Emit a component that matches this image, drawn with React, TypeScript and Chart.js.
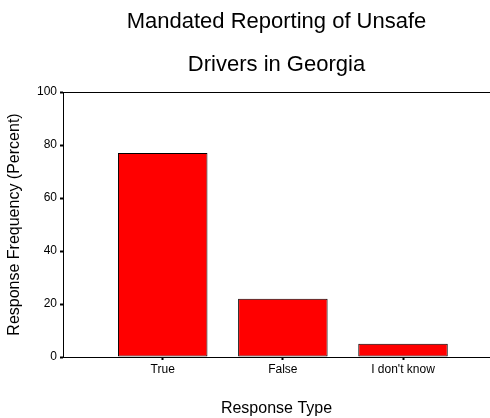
import React, { useEffect, useRef } from "react";
import { Chart, registerables } from "chart.js";

Chart.register(...registerables);

const titleLines = ["Mandated Reporting of Unsafe", "Drivers in Georgia"];
const categories = ["True", "False", "I don't know"];
const values = [77, 22, 5];
const yTicks = [0, 20, 40, 60, 80, 100];
const xAxisTitle = "Response Type";
const yAxisTitle = "Response Frequency (Percent)";

const FONT = "'Liberation Sans', Arial, Helvetica, sans-serif";

const topBorder = {
  id: "topBorder",
  afterDraw(chart: any) {
    const { ctx, chartArea } = chart;
    ctx.save();
    ctx.strokeStyle = "#000";
    ctx.lineWidth = 1;
    ctx.beginPath();
    const y = Math.round(chartArea.top) + 0.5;
    ctx.moveTo(chartArea.left, y);
    ctx.lineTo(chartArea.right, y);
    ctx.stroke();
    ctx.restore();
  },
};

export default function App() {
  const ref = useRef<HTMLCanvasElement | null>(null);

  useEffect(() => {
    document.body.style.margin = "0";
    const canvas = ref.current;
    if (!canvas) return;
    const chart = new Chart(canvas, {
      type: "bar",
      data: {
        datasets: [
          {
            data: values.map((v, i) => ({ x: i, y: v })),
            backgroundColor: "#ff0000",
            borderColor: "#000000",
            borderWidth: 1,
            borderSkipped: false,
            barPercentage: 0.745,
            categoryPercentage: 1,
          },
        ],
      },
      options: {
        animation: false,
        responsive: false,
        maintainAspectRatio: false,
        layout: { padding: 0 },
        plugins: {
          legend: { display: false },
          tooltip: { enabled: false },
          title: {
            display: true,
            text: titleLines,
            fullSize: false,
            color: "#000",
            font: { family: FONT, size: 22, weight: "normal", lineHeight: 43 / 22 },
            padding: { top: 0, bottom: 6 },
          },
        },
        scales: {
          x: {
            type: "linear",
            min: -0.83,
            max: 2.724,
            offset: false,
            afterBuildTicks: (scale: any) => {
              scale.ticks = categories.map((_, i) => ({ value: i }));
            },
            afterFit: (scale: any) => {
              scale.height = 61;
            },
            ticks: {
              autoSkip: false,
              maxRotation: 0,
              padding: 2,
              color: "#000",
              font: { family: FONT, size: 12 },
              callback: (v: any) => categories[v] ?? "",
            },
            grid: {
              offset: false,
              drawOnChartArea: false,
              drawTicks: true,
              tickLength: 3,
              tickWidth: 2,
              color: "#000",
            },
            border: { display: true, color: "#000", width: 1 },
            title: {
              display: true,
              text: xAxisTitle,
              color: "#000",
              font: { family: FONT, size: 16 },
              padding: { top: 0, bottom: 0 },
            },
          },
          y: {
            type: "linear",
            min: 0,
            max: 100,
            afterBuildTicks: (scale: any) => {
              scale.ticks = yTicks.map((v) => ({ value: v }));
            },
            afterFit: (scale: any) => {
              scale.width = 63;
            },
            ticks: {
              padding: 3,
              color: "#000",
              font: { family: FONT, size: 12 },
            },
            grid: {
              drawOnChartArea: false,
              drawTicks: true,
              tickLength: 3,
              tickWidth: 2,
              color: "#000",
            },
            border: { display: true, color: "#000", width: 1 },
            title: {
              display: true,
              text: yAxisTitle,
              color: "#000",
              font: { family: FONT, size: 16 },
              padding: { top: 5, bottom: 0 },
            },
          },
        },
      },
      plugins: [topBorder],
    } as any);
    return () => chart.destroy();
  }, []);

  return <canvas ref={ref} width={490} height={418} style={{ display: "block" }} />;
}
